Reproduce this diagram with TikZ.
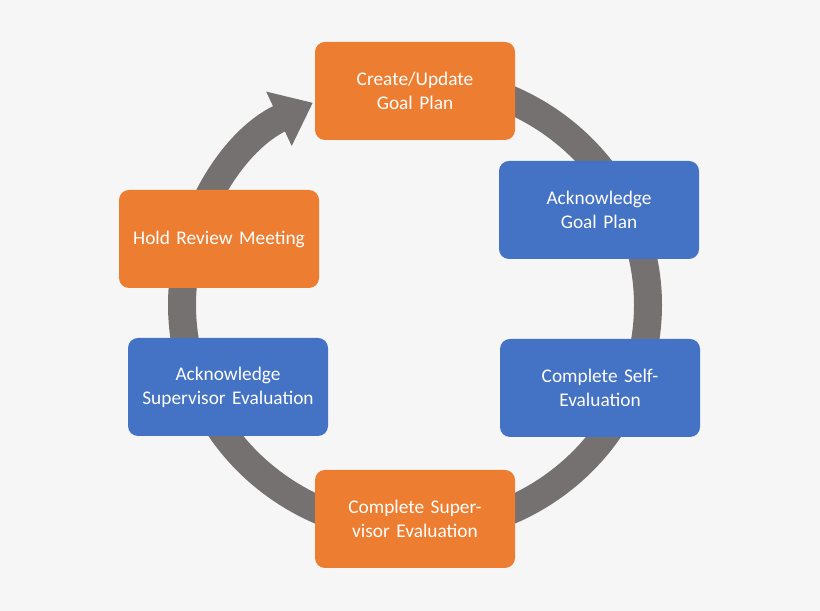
\documentclass[tikz,border=0pt]{standalone}
\usepackage{fontspec}
\setmainfont{Carlito}
\usetikzlibrary{arrows.meta,positioning}
\definecolor{bgcol}{HTML}{F6F6F6}
\definecolor{ringcol}{HTML}{767171}
\definecolor{stepor}{HTML}{ED7D31}
\definecolor{stepbl}{HTML}{4472C4}
\tikzset{
	cyclestep/.style={draw=none,rounded corners=0.2cm,minimum width=4cm,minimum height=1.96cm,
		text width=3.6cm,align=center,text=white,font=\fontsize{11pt}{13.5pt}\selectfont},
	orangestep/.style={cyclestep,fill=stepor},
	bluestep/.style={cyclestep,fill=stepbl}
}
\begin{document}
\begin{tikzpicture}
		\fill[bgcol] (0,0) rectangle (16.4,12.22);
		\useasboundingbox (0,0) rectangle (16.4,12.22);
		% ring
		\draw[ringcol,line width=0.56cm,-{Triangle[width=1.15cm,length=0.75cm]}]
			(8.3,6.12) ++(90:4.66cm and 4.5cm) arc[start angle=90,end angle=-244,x radius=4.66cm,y radius=4.5cm];
		% steps
		\node[orangestep] (create) at (8.3,10.40) {Create/Update Goal Plan};
		\node[bluestep] (ackgoal) at (11.98,8.02) {Acknowledge Goal Plan};
		\node[bluestep] (self) at (12.0,4.46) {Complete Self-Evaluation};
		\node[orangestep] (supeval) at (8.3,1.84) {Complete Supervisor Evaluation};
		\node[bluestep] (acksup) at (4.56,4.48) {Acknowledge Supervisor Evaluation};
		\node[orangestep] (review) at (4.38,7.44) {Hold Review Meeting};
\end{tikzpicture}
\end{document}
